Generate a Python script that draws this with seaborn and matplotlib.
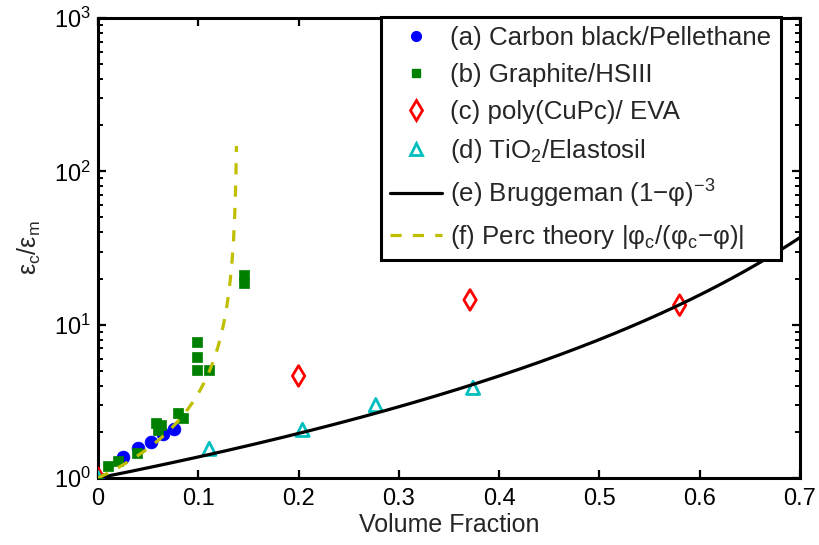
import numpy as np
import pandas as pd
import matplotlib
matplotlib.use("Agg")
import matplotlib.pyplot as plt
from matplotlib.lines import Line2D
from matplotlib.ticker import LogLocator, FixedLocator, FuncFormatter
import seaborn as sns

# Measured dielectric enhancement (eps_c / eps_m) versus filler volume fraction
phi_a = [0.0, 0.025, 0.040, 0.053, 0.065, 0.076]
eps_a = [1.0, 1.38, 1.56, 1.72, 1.93, 2.09]

phi_b = [0.0, 0.010, 0.020, 0.039, 0.058, 0.060, 0.063, 0.080, 0.085,
         0.099, 0.099, 0.099, 0.111, 0.146, 0.146]
eps_b = [1.0, 1.19, 1.30, 1.46, 2.30, 2.05, 2.20, 2.67, 2.45,
         7.68, 6.18, 5.06, 5.06, 21.2, 18.8]

phi_c = [0.0, 0.200, 0.371, 0.580]
eps_c = [1.0, 4.63, 14.5, 13.4]

phi_d = [0.0, 0.111, 0.204, 0.277, 0.374]
eps_d = [1.0, 1.55, 2.06, 2.99, 3.87]

x_ticks = [0.0, 0.1, 0.2, 0.3, 0.4, 0.5, 0.6, 0.7]

labels = ["(a) Carbon black/Pellethane",
          "(b) Graphite/HSIII",
          "(c) poly(CuPc)/ EVA",
          "(d) TiO$_2$/Elastosil",
          "(e) Bruggeman (1$-$φ)$^{-3}$",
          "(f) Perc theory |φ$_c$/(φ$_c$$-$φ)|"]

# Model parameters
bruggeman_exp = -3
phi_crit = 0.139
phi_perc_end = 0.13805

sns.set_theme(style="white")
plt.rcParams["font.family"] = ["Liberation Sans", "DejaVu Sans"]
plt.rcParams["mathtext.fontset"] = "custom"
plt.rcParams["mathtext.rm"] = "Liberation Sans"
plt.rcParams["mathtext.it"] = "Liberation Sans"
plt.rcParams["mathtext.bf"] = "Liberation Sans:bold"
plt.rcParams["axes.unicode_minus"] = True

fig = plt.figure(figsize=(8.2, 5.45), dpi=100)
ax = fig.add_axes([98 / 820, 1 - 478 / 545, 702 / 820, 460 / 545])

df_a = pd.DataFrame({"phi": phi_a, "eps": eps_a})
df_b = pd.DataFrame({"phi": phi_b, "eps": eps_b})
df_c = pd.DataFrame({"phi": phi_c, "eps": eps_c})
df_d = pd.DataFrame({"phi": phi_d, "eps": eps_d})

blue = "#0000ff"
green = "#008000"
red = "#ff0000"
cyan = "#00bfbf"
olive = "#bfbf00"

sns.scatterplot(data=df_a, x="phi", y="eps", ax=ax, marker="o", s=85,
                facecolor=blue, edgecolor=blue, linewidth=0.5, zorder=3)
sns.scatterplot(data=df_b, x="phi", y="eps", ax=ax, marker="s", s=42,
                facecolor=green, edgecolor=green, linewidth=0.5, zorder=3)
sns.scatterplot(data=df_c, x="phi", y="eps", ax=ax, marker="d", s=110,
                facecolor="none", edgecolor=red, linewidth=2, zorder=3)
sns.scatterplot(data=df_d, x="phi", y="eps", ax=ax, marker="^", s=90,
                facecolor="none", edgecolor=cyan, linewidth=2, zorder=3)

# Theory curves
phi_e = np.linspace(0, 0.7, 300)
df_e = pd.DataFrame({"phi": phi_e, "eps": (1 - phi_e) ** bruggeman_exp})
phi_f = np.linspace(0, phi_perc_end, 300)
df_f = pd.DataFrame({"phi": phi_f, "eps": np.abs(phi_crit / (phi_crit - phi_f))})

sns.lineplot(data=df_e, x="phi", y="eps", ax=ax, color="black", linewidth=2.3,
             zorder=4, estimator=None, sort=False)
sns.lineplot(data=df_f, x="phi", y="eps", ax=ax, color=olive, linewidth=2.3,
             linestyle=(0, (3.5, 3.5)), zorder=4, estimator=None, sort=False)

ax.set_yscale("log")
ax.set_xlim(0, 0.7)
ax.set_ylim(1, 1000)
ax.xaxis.set_major_locator(FixedLocator(x_ticks))
ax.xaxis.set_major_formatter(FuncFormatter(lambda v, p: "0" if abs(v) < 1e-9 else f"{v:.1f}"))
ax.yaxis.set_major_locator(LogLocator(base=10, numticks=10))
ax.yaxis.set_minor_locator(LogLocator(base=10, subs=np.arange(2, 10), numticks=10))

ax.tick_params(axis="both", which="both", direction="in", top=True, right=True,
               bottom=True, left=True, labelsize=17, colors="black", pad=5)
ax.tick_params(axis="x", which="major", pad=7)
ax.tick_params(axis="both", which="major", length=6, width=1.6)
ax.tick_params(axis="y", which="minor", length=3.5, width=1.4)
for sp in ax.spines.values():
    sp.set_linewidth(2.2)
    sp.set_color("black")

ax.set_xlabel("Volume Fraction", fontsize=18, labelpad=2)
ax.set_ylabel("ε$_c$/ε$_m$", fontsize=18, labelpad=8)

handles = [
    Line2D([], [], linestyle="none", marker="o", markersize=7,
           markerfacecolor=blue, markeredgecolor=blue),
    Line2D([], [], linestyle="none", marker="s", markersize=5.5,
           markerfacecolor=green, markeredgecolor=green),
    Line2D([], [], linestyle="none", marker="d", markersize=10,
           markerfacecolor="none", markeredgecolor=red, markeredgewidth=2),
    Line2D([], [], linestyle="none", marker="^", markersize=8,
           markerfacecolor="none", markeredgecolor=cyan, markeredgewidth=2),
    Line2D([], [], color="black", linewidth=2.3),
    Line2D([], [], color=olive, linewidth=2.3, linestyle=(0, (3.5, 3.5))),
]
leg = fig.legend(handles, labels, loc="upper left",
                 bbox_to_anchor=(381 / 820, 1 - 17 / 545),
                 fontsize=18.6, frameon=True, fancybox=False, framealpha=1,
                 edgecolor="black", borderpad=0.35, labelspacing=0.5,
                 handlelength=2.0, handletextpad=0.34, borderaxespad=0)
leg.get_frame().set_linewidth(2.2)
leg.set_zorder(10)

fig.savefig("out.png", dpi=100, facecolor="white")
